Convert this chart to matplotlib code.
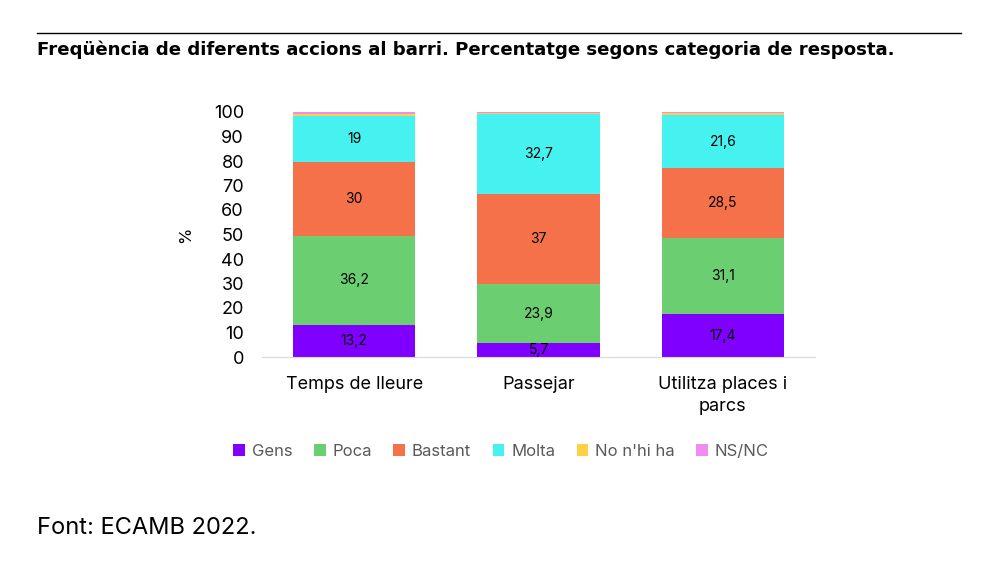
import matplotlib
matplotlib.use("Agg")
import matplotlib.pyplot as plt
import numpy as np

categories = ["Temps de lleure", "Passejar", "Utilitza places i\nparcs"]
series_names = ["Gens", "Poca", "Bastant", "Molta", "No n'hi ha", "NS/NC"]
gens = [13.2, 5.7, 17.4]
poca = [36.2, 23.9, 31.1]
bastant = [30, 37, 28.5]
molta = [19, 32.7, 21.6]
no_nhi_ha = [0.9, 0.3, 0.8]
nsnc = [0.7, 0.4, 0.6]
label_texts = {
    "Gens": ["13,2", "5,7", "17,4"],
    "Poca": ["36,2", "23,9", "31,1"],
    "Bastant": ["30", "37", "28,5"],
    "Molta": ["19", "32,7", "21,6"],
}
colors = ["#8000FF", "#6BCF72", "#F47149", "#45F2F0", "#FFD044", "#F08CF0"]
yticks = [0, 10, 20, 30, 40, 50, 60, 70, 80, 90, 100]

plt.rcParams['font.family'] = ['Inter', 'DejaVu Sans']
fig = plt.figure(figsize=(10.01, 5.73), dpi=100)
ax = fig.add_axes([262/1001, 1-357/573, (815-262)/1001, (357-112)/573])

data = [gens, poca, bastant, molta, no_nhi_ha, nsnc]
x = np.arange(len(categories))
bottom = np.zeros(len(categories))
for name, vals, c in zip(series_names, data, colors):
    vals = np.array(vals, dtype=float)
    ax.bar(x, vals, 0.665, bottom=bottom, color=c, label=name, linewidth=0)
    if name in label_texts:
        for xi, b, v, t in zip(x, bottom, vals, label_texts[name]):
            ax.text(xi, b + v/2, t, ha='center', va='center', fontsize=10, color='black')
    bottom += vals

ax.set_xlim(-0.5, 2.5)
ax.set_ylim(0, 100)
ax.set_yticks(yticks)
ax.set_yticklabels([str(t) for t in yticks], fontsize=13)
ax.set_xticks(x)
ax.set_xticklabels(categories, fontsize=13, linespacing=1.35)
ax.tick_params(axis='x', length=0, pad=14)
ax.tick_params(axis='y', length=0, pad=13)
for s in ['top', 'right', 'left']:
    ax.spines[s].set_visible(False)
ax.spines['bottom'].set_color('#D9D9D9')
ax.set_ylabel('%', fontsize=12)
ax.yaxis.set_label_coords((193-262)/553, 0.5)

handles, labels = ax.get_legend_handles_labels()
fig.legend(handles, labels, loc='center', bbox_to_anchor=(501/1001, 1-451/573), ncol=6,
           frameon=False, fontsize=12, handlelength=0.7, handleheight=0.7,
           handletextpad=0.4, columnspacing=1.3, labelcolor='#595959')

fig.add_artist(plt.Line2D([37/1001, 961/1001], [1-33/573, 1-33/573], color='black', linewidth=1))
fig.text(37/1001, 1-50/573, "Freqüència de diferents accions al barri. Percentatge segons categoria de resposta.",
         fontsize=13.1, fontweight='bold', ha='left', va='center', family='DejaVu Sans')
fig.text(37/1001, 1-528/573, "Font: ECAMB 2022.", fontsize=17, ha='left', va='center')

fig.savefig("out.png", dpi=100)
